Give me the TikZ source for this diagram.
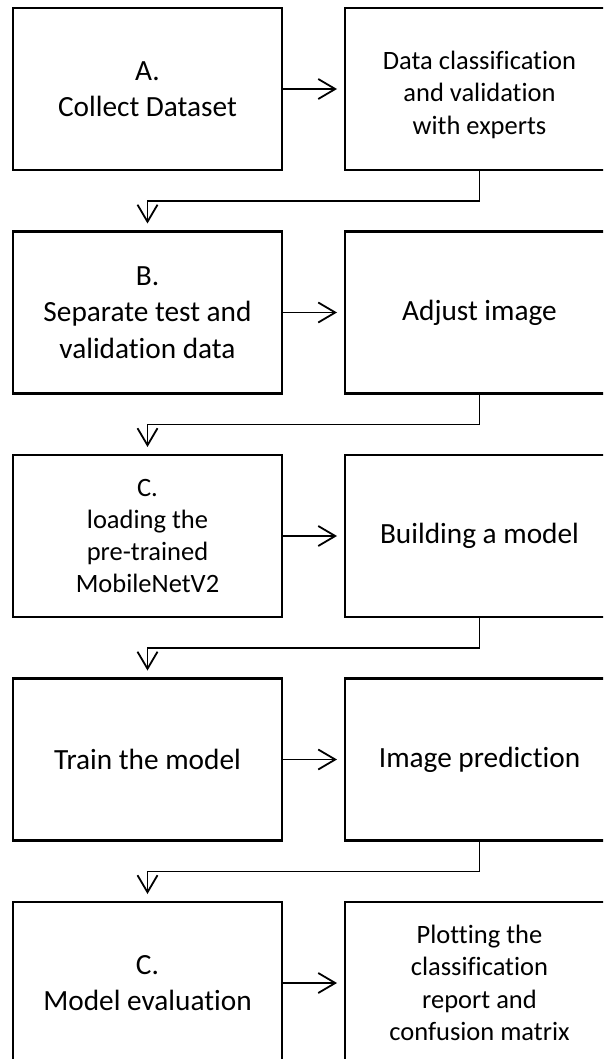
\documentclass[tikz,border=0pt]{standalone}
\usepackage{fontspec}
\setmainfont{Carlito}[Ligatures={NoCommon,NoContextual}]
\usetikzlibrary{arrows.meta}
\newcommand\fbig{\fontsize{29.3}{36.5}\selectfont}
\newcommand\fsmall{\fontsize{26.5}{32.3}\selectfont}
\begin{document}
\begin{tikzpicture}[x=1pt,y=-1pt,
  box/.style={draw, line width=2.4pt, minimum width=269pt, minimum height=162pt,
    inner sep=0pt, outer sep=0pt, align=center, anchor=north west, font=\fbig},
  small/.style={font=\fsmall},
  conn/.style={line width=1.8pt, -{Straight Barb[length=17pt,width=20pt,line width=1.8pt]}}
]
\useasboundingbox (0,0) rectangle (603,1059);
\clip (0,0) rectangle (603,1059);
\fill[white] (0,0) rectangle (603,1059);
% left column
\node[box] (l1) at (13,8) {A.\\Collect Dataset};
\node[box] (l2) at (13,231.5) {B.\\Separate test and\\validation data};
\node[box,small] (l3) at (13,455) {C.\\loading the\\pre-trained\\MobileNetV2};
\node[box] (l4) at (13,678.5) {Train the model};
\node[box] (l5) at (13,902) {C.\\Model evaluation};
% right column
\node[box,small] (r1) at (345,8) {\rule{0pt}{30pt}Data classification\\and validation\\with experts};
\node[box] (r2) at (345,231.5) {Adjust image};
\node[box] (r3) at (345,455) {Building a model};
\node[box] (r4) at (345,678.5) {Image prediction};
\node[box,small] (r5) at (345,902) {Plotting the\\classification\\report and\\confusion matrix};
% horizontal arrows
\foreach \i in {1,...,5}{
  \draw[conn] (l\i.east) -- ([xshift=-8pt]r\i.west);
}
% return connectors
\foreach \i [evaluate=\i as \j using int(\i+1)] in {1,...,4}{
  \draw[conn] (r\i.south) -- ++(0,31) -| ([yshift=8pt]l\j.north);
}
\end{tikzpicture}
\end{document}
